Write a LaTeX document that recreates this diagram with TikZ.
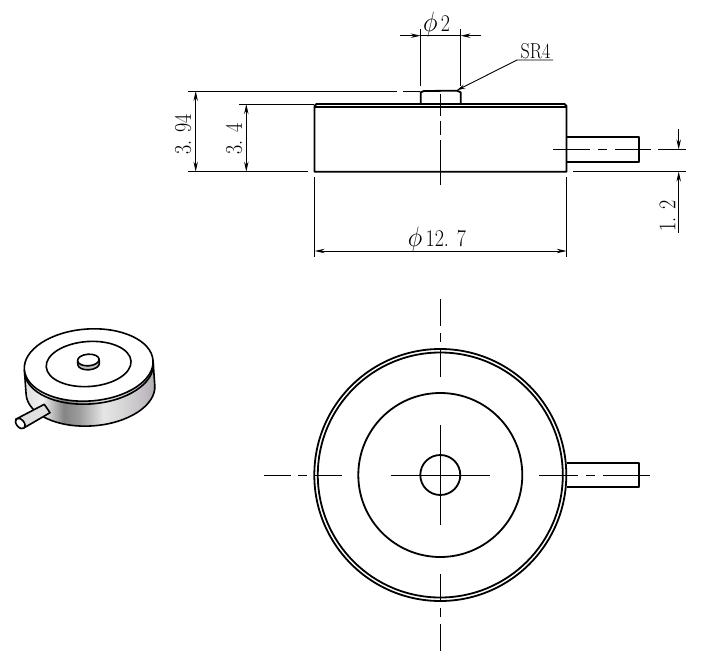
\documentclass[tikz,border=0pt]{standalone}
\usepackage{graphicx}
\usetikzlibrary{arrows.meta}
\pgfdeclarehorizontalshading{bodyshade}{100bp}{
  color(0bp)=(black!12); color(25bp)=(black!12); color(32bp)=(black!6); color(40bp)=(black!48); color(46bp)=(black!38);
  color(55bp)=(black!10); color(62bp)=(black!16); color(69bp)=(violet!16!black!24); color(73bp)=(violet!14!black!30); color(75bp)=(black!34); color(100bp)=(black!34)}
\colorlet{pinfill}{violet!6!black!12}
\newcommand{\tall}[1]{\scalebox{1}[1.2]{#1}}
\newcommand{\dia}{\scalebox{1.2}[1.35]{$\phi$}}
\tikzset{
  thick line/.style={line width=1.8pt,line join=round},
  thin line/.style={line width=0.9pt},
  centre line/.style={line width=0.9pt},
  dim arrows/.style={thin line,{Stealth[length=10pt,width=4.4pt]}-{Stealth[length=10pt,width=4.4pt]}},
  end arrow/.style={thin line,-{Stealth[length=10pt,width=4.4pt]}},
  dim text/.style={inner sep=0pt,font=\fontsize{20}{20}\selectfont},
  iso/.style={line width=1.6pt,line join=round}
}
\begin{document}
\begin{tikzpicture}[x=1pt,y=-1pt]
\useasboundingbox (0,0) rectangle (710,666);
% --- side view ---
\coordinate (bl) at (314.5,171.7);
\coordinate (br) at (566.5,171.7);
\draw[thick line] (bl) -- (314.5,106) -- (316.5,104) -- (564.5,104) -- (566.5,106) -- (br) -- cycle;
\draw[thick line] (314.5,107.2) -- (566.5,107.2);
\draw[thick line] (420.7,104) -- (420.7,92.3) -- (424,91) -- (457,90.7) -- (460.7,92.3) -- (460.7,104);
\draw[thick line] (566.5,137) -- (639,137) -- (639,161.7) -- (566.5,161.7);
% side centre lines
\draw[centre line] (440.5,94) -- (440.5,116) (440.5,121) -- (440.5,135) (440.5,140) -- (440.5,185);
\draw[centre line] (553,149.5) -- (590,149.5) (598,149.5) -- (607,149.5) (615,149.5) -- (651,149.5) (658,149.5) -- (686,149.5);
% phi 2
\draw[thin line] (420.7,29) -- (420.7,86) (460.5,29) -- (460.5,86);
\draw[end arrow] (400,35.7) -- (420.7,35.7);
\draw[end arrow] (481,35.7) -- (460.5,35.7);
\draw[thin line] (420.7,35.7) -- (460.5,35.7);
\node[dim text] (phitwo) at (436.5,25) {\dia\,\tall{2}};
% SR4
\node[dim text,font=\fontsize{18}{18}\selectfont] (srfour) at (535.5,51.5) {\tall{SR4}};
\coordinate (srA) at (553,60);
\coordinate (srB) at (517,60);
\coordinate (srC) at (456.5,90.5);
\draw[thin line,-{Stealth[length=9pt,width=4pt]}] (srA) -- (srB) -- (srC);
% 3.94
\draw[thin line] (188,91) -- (397,91) (403,91) -- (420,91);
\draw[thin line] (188,171.7) -- (308,171.7);
\draw[dim arrows] (195.7,91) -- (195.7,171.7);
\node[dim text,rotate=90] (dimA) at (183,134.5) {\tall{3. 94}};
% 3.4
\draw[thin line] (239,104) -- (314,104);
\draw[dim arrows] (246.3,104) -- (246.3,171.7);
\node[dim text,rotate=90] (dimB) at (234,139) {\tall{3. 4}};
% phi 12.7
\draw[thin line] (314.7,177) -- (314.7,257) (566.7,177) -- (566.7,257);
\draw[dim arrows] (314.7,251) -- (566.7,251);
\node[dim text] (dimC) at (437,239.5) {\dia\,\tall{12. 7}};
% 1.2
\draw[thin line] (573,171.5) -- (686,171.5);
\draw[end arrow] (678.7,129) -- (678.7,149.5);
\draw[end arrow] (678.7,233) -- (678.7,171.5);
\node[dim text,rotate=90] (dimD) at (667.5,216) {\tall{1. 2}};
% --- top view ---
\coordinate (c) at (440.3,475);
\draw[thick line] (c) circle[radius=126];
\draw[thick line] (c) circle[radius=122.5];
\draw[thick line] (c) circle[radius=82];
\draw[thick line] (c) circle[radius=20];
\draw[thick line] (566.5,463.3) -- (639.3,463.3) -- (639.3,487.3) -- (566.5,487.3);
\draw[centre line] (440.3,299.3) -- (440.3,325.7) (440.3,333) -- (440.3,342) (440.3,350) -- (440.3,376.7)
  (440.3,425) -- (440.3,525) (440.3,574) -- (440.3,600) (440.3,608) -- (440.3,617) (440.3,624) -- (440.3,651);
\draw[centre line] (264,475) -- (291,475) (298,475) -- (307,475) (315,475) -- (342,475)
  (391,475) -- (490,475) (539,475) -- (578,475) (586,475) -- (595,475) (603,475) -- (650,475);
% --- isometric view ---
\begin{scope}[shift={(88.7,365)},rotate=4]
  \path[shading=bodyshade] (-64.5,0) -- (-64.5,25) arc[x radius=64.5,y radius=36,start angle=180,end angle=0] -- (64.5,0) arc[x radius=64.5,y radius=36,start angle=0,end angle=180] -- cycle;
  \draw[iso] (-64.5,0) -- (-64.5,25) arc[x radius=64.5,y radius=36,start angle=180,end angle=0] -- (64.5,0);
  \draw[iso,fill=white] (0,0) ellipse[x radius=64.5,y radius=36];
  \draw[iso] (-64.5,3) arc[x radius=64.5,y radius=36,start angle=180,end angle=0];
  \draw[iso] (0,-1) ellipse[x radius=42.5,y radius=22.5];
  \path[fill=black!25,draw=black,iso] (-10.8,-5) -- (-10.8,-1) arc[x radius=10.8,y radius=5.8,start angle=180,end angle=0] -- (10.8,-5) -- cycle;
  \draw[iso,fill=white] (0,-5) ellipse[x radius=10.8,y radius=5.8];
\end{scope}
\draw[iso,fill=pinfill] (44.3,404.3) -- (15.7,419.3) -- (25,427.3) -- (50,412.7) -- cycle;
\draw[iso,fill=white,rotate around={40:(20.3,423.5)}] (20.3,423.5) ellipse[x radius=3.8,y radius=6];
\end{tikzpicture}
\end{document}
